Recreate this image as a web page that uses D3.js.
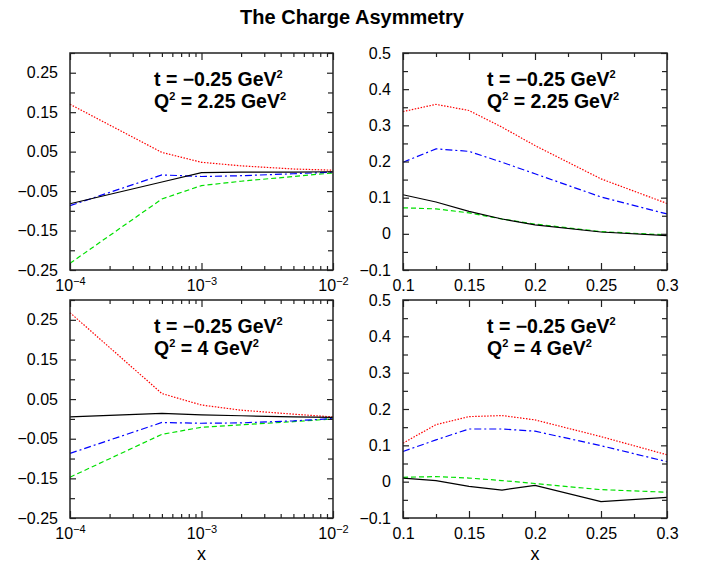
<!DOCTYPE html>
<html>
<head>
<meta charset="utf-8">
<script src="https://cdn.jsdelivr.net/npm/d3@7"></script>
<style>
  body { margin: 0; background: #fff; }
  svg { font-family: "Liberation Sans", Arial, Helvetica, sans-serif; }
</style>
</head>
<body>
<svg id="chart" width="704" height="566"></svg>
<script>
// x grids
const xSmall = [1e-4, 5e-4, 1e-3, 2e-3, 5e-3, 1e-2];
const xLarge = [0.1, 0.125, 0.15, 0.175, 0.2, 0.25, 0.3];

// Q^2 = 2.25, small x
const smallQ1Black = [-0.082, -0.027, -0.003, -0.002, -0.002, -0.001];
const smallQ1Red   = [0.170, 0.048, 0.023, 0.014, 0.006, 0.003];
const smallQ1Blue  = [-0.087, -0.009, -0.013, -0.011, -0.006, -0.002];
const smallQ1Green = [-0.233, -0.070, -0.036, -0.025, -0.013, -0.004];

// Q^2 = 2.25, large x
const largeQ1Black = [0.108, 0.088, 0.062, 0.041, 0.025, 0.005, -0.005];
const largeQ1Red   = [0.338, 0.358, 0.341, 0.295, 0.244, 0.152, 0.084];
const largeQ1Blue  = [0.198, 0.235, 0.228, 0.198, 0.166, 0.102, 0.055];
const largeQ1Green = [0.072, 0.069, 0.058, 0.041, 0.027, 0.006, -0.003];

// Q^2 = 4, small x
const smallQ2Black = [0.005, 0.014, 0.010, 0.008, 0.005, 0.004];
const smallQ2Red   = [0.268, 0.064, 0.035, 0.022, 0.012, 0.005];
const smallQ2Blue  = [-0.087, -0.009, -0.011, -0.010, -0.005, 0.001];
const smallQ2Green = [-0.147, -0.039, -0.021, -0.015, -0.007, 0.000];

// Q^2 = 4, large x
const largeQ2Black = [0.010, 0.003, -0.013, -0.023, -0.010, -0.055, -0.043];
const largeQ2Red   = [0.106, 0.157, 0.179, 0.182, 0.170, 0.124, 0.074];
const largeQ2Blue  = [0.083, 0.115, 0.145, 0.145, 0.139, 0.099, 0.055];
const largeQ2Green = [0.012, 0.014, 0.010, 0.003, -0.005, -0.022, -0.029];

// ticks
const yLabelsSmall = [-0.25, -0.15, -0.05, 0.05, 0.15, 0.25];
const yMinorSmall  = [-0.2, -0.1, 0, 0.1, 0.2, 0.3];
const yLabelsLarge = [-0.1, 0, 0.1, 0.2, 0.3, 0.4, 0.5];
const yMinorLarge  = [-0.05, 0.05, 0.15, 0.25, 0.35, 0.45];
const xLabelsSmall = [1e-4, 1e-3, 1e-2];
const xMinorSmall  = [2e-4,3e-4,4e-4,5e-4,6e-4,7e-4,8e-4,9e-4,2e-3,3e-3,4e-3,5e-3,6e-3,7e-3,8e-3,9e-3];
const xLabelsLarge = [0.1, 0.15, 0.2, 0.25, 0.3];
const xMinorLarge  = [0.125, 0.175, 0.225, 0.275];

const kinematics = [["−0.25", "2.25"], ["−0.25", "2.25"], ["−0.25", "4"], ["−0.25", "4"]];

const styles = [
  {key: "Black", color: "#000000", dash: null},
  {key: "Red", color: "#ff0000", dash: "1.5,1.5"},
  {key: "Blue", color: "#0000ff", dash: "7,3,2,3"},
  {key: "Green", color: "#00e000", dash: "5,3"}
];

const series = {
  smallQ1: {Black: smallQ1Black, Red: smallQ1Red, Blue: smallQ1Blue, Green: smallQ1Green},
  largeQ1: {Black: largeQ1Black, Red: largeQ1Red, Blue: largeQ1Blue, Green: largeQ1Green},
  smallQ2: {Black: smallQ2Black, Red: smallQ2Red, Blue: smallQ2Blue, Green: smallQ2Green},
  largeQ2: {Black: largeQ2Black, Red: largeQ2Red, Blue: largeQ2Blue, Green: largeQ2Green}
};

const svg = d3.select("#chart");

svg.append("text").attr("x", 352).attr("y", 24).attr("text-anchor", "middle")
  .attr("font-size", 20).attr("font-weight", "bold").text("The Charge Asymmetry");

const panels = [
  {id: "smallQ1", left: 70, right: 333, top: 53, bottom: 270, log: true, kin: 0, xTitle: false},
  {id: "largeQ1", left: 403, right: 667, top: 53, bottom: 270, log: false, kin: 1, xTitle: false},
  {id: "smallQ2", left: 70, right: 333, top: 300, bottom: 518, log: true, kin: 2, xTitle: true},
  {id: "largeQ2", left: 403, right: 667, top: 300, bottom: 518, log: false, kin: 3, xTitle: true}
];

const fmt = d3.format("~g");
const supr = {"-4": "−4", "-3": "−3", "-2": "−2"};

function drawPanel(p){
  let g = svg.append("g");
  let xs = p.log ? d3.scaleLog().domain([1e-4, 1e-2]).range([p.left, p.right])
                 : d3.scaleLinear().domain([0.1, 0.3]).range([p.left, p.right]);
  let ys = p.log ? d3.scaleLinear().domain([-0.25, 0.30]).range([p.bottom, p.top])
                 : d3.scaleLinear().domain([-0.1, 0.5]).range([p.bottom, p.top]);
  let xMaj = p.log ? xLabelsSmall : xLabelsLarge;
  let xMin = p.log ? xMinorSmall : xMinorLarge;
  let yMaj = p.log ? yLabelsSmall : yLabelsLarge;
  let yMin = p.log ? yMinorSmall : yMinorLarge;

  // curves
  let xv = p.log ? xSmall : xLarge;
  let line = d3.line().x((d, i) => xs(xv[i])).y(d => ys(d));
  styles.slice().reverse().forEach(s => {
    g.append("path").attr("d", line(series[p.id][s.key]))
      .attr("fill", "none").attr("stroke", s.color).attr("stroke-width", 1.2)
      .attr("stroke-dasharray", s.dash);
  });

  // axes, ticks pointing inward
  let bottomAx = g.append("g").attr("transform", `translate(0,${p.bottom})`)
    .call(d3.axisBottom(xs).tickValues(xMaj).tickSize(-7).tickPadding(10)
      .tickFormat(d => p.log ? "" : fmt(d)));
  g.append("g").attr("transform", `translate(0,${p.bottom})`)
    .call(d3.axisBottom(xs).tickValues(xMin).tickSize(-4).tickFormat(""));
  g.append("g").attr("transform", `translate(0,${p.top})`)
    .call(d3.axisTop(xs).tickValues(xMaj).tickSize(-7).tickFormat(""));
  g.append("g").attr("transform", `translate(0,${p.top})`)
    .call(d3.axisTop(xs).tickValues(xMin).tickSize(-4).tickFormat(""));
  g.append("g").attr("transform", `translate(${p.left},0)`)
    .call(d3.axisLeft(ys).tickValues(yMaj).tickSize(-6).tickPadding(12).tickFormat(fmt));
  g.append("g").attr("transform", `translate(${p.left},0)`)
    .call(d3.axisLeft(ys).tickValues(yMin).tickSize(-5).tickFormat(""));
  g.append("g").attr("transform", `translate(${p.right},0)`)
    .call(d3.axisRight(ys).tickValues(yMaj).tickSize(-6).tickFormat(""));
  g.append("g").attr("transform", `translate(${p.right},0)`)
    .call(d3.axisRight(ys).tickValues(yMin).tickSize(-5).tickFormat(""));

  if(p.log){
    bottomAx.selectAll(".tick text").each(function(d){
      let t = d3.select(this);
      t.append("tspan").text("10");
      t.append("tspan").attr("font-size", 11).attr("dy", "-0.6em")
        .text(supr[String(Math.round(Math.log10(d)))]);
    });
  }

  g.selectAll(".domain").remove();
  g.selectAll(".tick line").attr("stroke", "#222").attr("stroke-width", 1.2);
  g.selectAll(".tick text").attr("font-size", 16).attr("fill", "#000")
    .attr("font-family", "Liberation Sans, Arial, sans-serif");

  g.append("rect").attr("x", p.left).attr("y", p.top)
    .attr("width", p.right - p.left).attr("height", p.bottom - p.top)
    .attr("fill", "none").attr("stroke", "#222").attr("stroke-width", 1.5);

  // kinematics label
  let k = kinematics[p.kin];
  let tx = p.left + 84;
  let t1 = g.append("text").attr("x", tx).attr("y", p.top + 33)
    .attr("font-size", 19.5).attr("font-weight", "bold");
  t1.append("tspan").text("t = " + k[0] + " GeV");
  t1.append("tspan").attr("font-size", 11).attr("dy", -8).text("2");
  let t2 = g.append("text").attr("x", tx).attr("y", p.top + 55)
    .attr("font-size", 19.5).attr("font-weight", "bold");
  t2.append("tspan").text("Q");
  t2.append("tspan").attr("font-size", 11).attr("dy", -8).text("2");
  t2.append("tspan").attr("dy", 8).text(" = " + k[1] + " GeV");
  t2.append("tspan").attr("font-size", 11).attr("dy", -8).text("2");

  if(p.xTitle){
    svg.append("text").attr("x", (p.left + p.right) / 2).attr("y", 560)
      .attr("text-anchor", "middle").attr("font-size", 18).text("x");
  }
}

panels.forEach(drawPanel);
</script>
</body>
</html>
